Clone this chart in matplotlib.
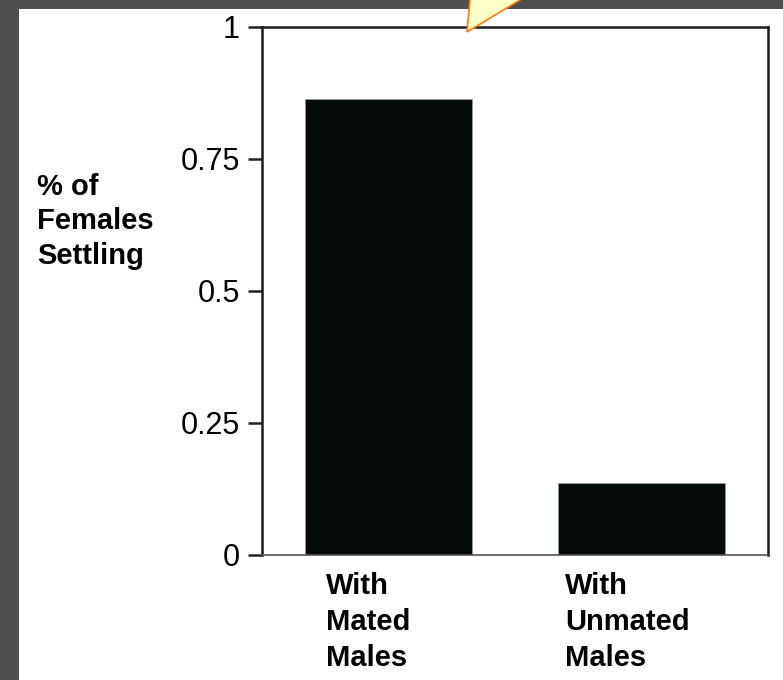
import matplotlib
matplotlib.use('Agg')
from matplotlib import pyplot as plt
from matplotlib.patches import Polygon, Rectangle
from matplotlib.transforms import ScaledTranslation
import numpy as np

plt.rcParams['font.family'] = ['Liberation Sans', 'DejaVu Sans']

# data
categories = ['With\nMated\nMales', 'With\nUnmated\nMales']
settling = [0.864, 0.137]
y_ticks = [0, 0.25, 0.5, 0.75, 1]
y_tick_labels = ['0', '0.25', '0.5', '0.75', '1']

W, H = 783, 680
fig = plt.figure(figsize=(W / 100, H / 100), dpi=100)
fig.patch.set_facecolor('#4f4f4f')
# white slide area behind the chart
fig.add_artist(Rectangle((19 / W, 0), 1, 1 - 9 / H, transform=fig.transFigure,
                         facecolor='white', edgecolor='none', zorder=0))

ax = fig.add_axes([262 / W, 125 / H, 506 / W, 528 / H])
ax.set_facecolor('white')

x = np.arange(len(categories))
ax.bar(x, settling, width=0.66, color='#050a0b', edgecolor='#9a9a9a', linewidth=0.6)

ax.set_xlim(-0.5, 1.5)
ax.set_ylim(0, 1)
ax.set_yticks(y_ticks)
ax.set_yticklabels(y_tick_labels, fontsize=22)
ax.tick_params(axis='y', direction='out', length=10, width=1.8, pad=6, color='#222222')

ax.set_xticks(x)
ax.set_xticklabels(categories, fontsize=21, fontweight='bold', ha='center',
                   multialignment='left', linespacing=1.38)
ax.tick_params(axis='x', length=0, pad=12)
for lbl, dx in zip(ax.get_xticklabels(), [-20, -14]):
    lbl.set_transform(lbl.get_transform() + ScaledTranslation(dx / 100, 0, fig.dpi_scale_trans))

for side in ['left', 'top', 'right']:
    ax.spines[side].set_linewidth(1.8)
    ax.spines[side].set_color('#1a1a1a')
ax.spines['bottom'].set_linewidth(1.2)
ax.spines['bottom'].set_color('#555555')

ax.set_ylabel('% of\nFemales\nSettling', rotation=0, fontsize=21, fontweight='bold',
              ha='left', va='center', multialignment='left', linespacing=1.3)
ax.yaxis.set_label_coords(-0.445, 0.632)

# callout pointer coming in from the top edge
tip = (467, 32)
left_top = (470, 0)
right_top = (520, 0)
ext = 15
def _extend(p):
    sx = (p[0] - tip[0]) / (tip[1] - p[1])
    return (p[0] + sx * ext, p[1] - ext)
pts = [tip, _extend(left_top), _extend(right_top)]
pointer = Polygon([(px / W, 1 - py / H) for px, py in pts], closed=True,
                  transform=fig.transFigure, facecolor='#ffffc8',
                  edgecolor='#ff7a10', linewidth=1.2, clip_on=False, zorder=5)
fig.add_artist(pointer)

fig.savefig('out.png', dpi=100, facecolor=fig.get_facecolor())
